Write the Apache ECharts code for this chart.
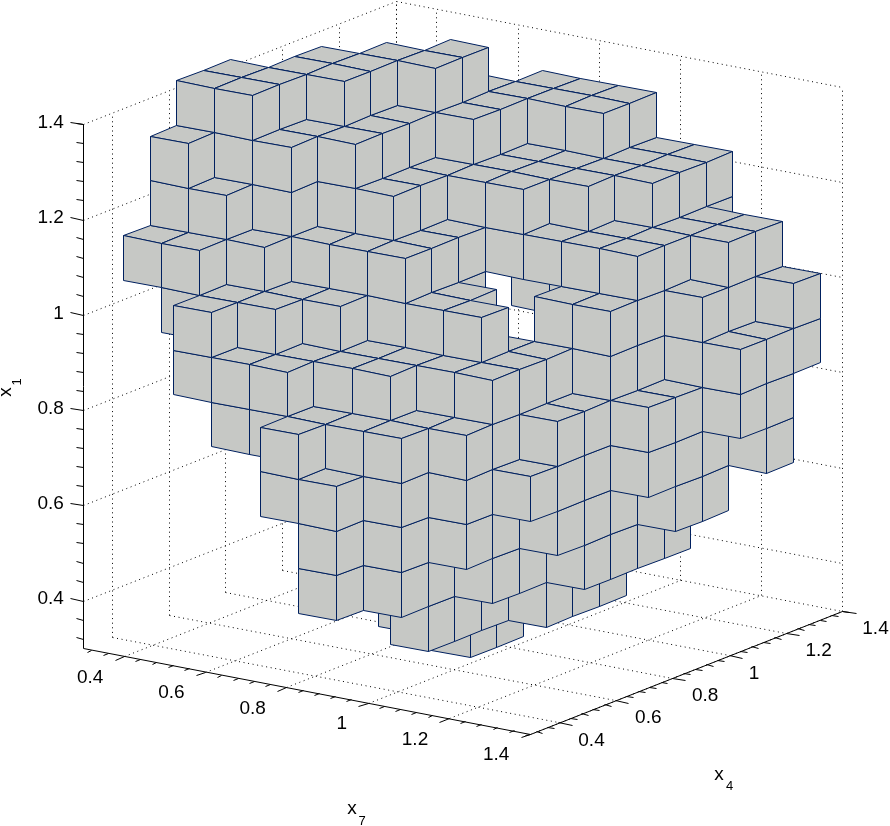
<!DOCTYPE html>
<html>
<head>
<meta charset="utf-8">
<style>html,body{margin:0;padding:0;background:#fff}#c{width:890px;height:826px}</style>
<script src="https://cdn.jsdelivr.net/npm/echarts@6/dist/echarts.min.js"></script>
</head>
<body>
<div id="c"></div>
<script>
// Occupied voxels, one list per x1 layer (bottom to top); each pair is [x7 index, x4 index]
const layer0  = [[6,5],[6,6]];
const layer1  = [[6,3],[7,2],[7,3],[7,4],[8,5],[8,6],[8,7]];
const layer2  = [[6,0],[7,1],[7,2],[8,3],[8,4],[9,5],[9,6],[9,7],[9,8]];
const layer3  = [[6,0],[7,1],[8,2],[8,3],[9,4],[9,5],[9,6],[10,7],[10,8]];
const layer4  = [[5,0],[6,0],[7,1],[8,2],[8,3],[9,3],[9,4],[9,5],[9,6],[10,6],[10,7],[10,8],[11,9]];
const layer5  = [[3,1],[4,1],[5,0],[5,1],[6,1],[6,2],[7,1],[7,2],[8,2],[8,3],[9,4],[9,5],[9,6],[10,6],[10,7],[10,8],[11,8],[11,9]];
const layer6  = [[2,1],[3,1],[4,1],[4,2],[5,2],[5,3],[6,2],[6,3],[7,3],[7,5],[8,3],[8,4],[8,5],[9,6],[9,7],[10,8],[11,8],[11,9],[11,10]];
const layer7  = [[1,2],[2,1],[2,2],[3,2],[3,3],[4,3],[5,4],[5,5],[5,6],[6,4],[6,5],[7,4],[6,8],[8,6],[9,6],[9,7],[10,8],[10,9],[11,10]];
const layer8  = [[0,2],[1,2],[2,3],[3,4],[4,4],[5,4],[5,5],[5,6],[6,7],[6,8],[7,7],[8,7],[8,8],[8,11],[9,7],[9,8],[9,9],[9,10],[10,9],[10,10]];
const layer9  = [[0,3],[1,3],[2,4],[3,5],[4,5],[4,6],[4,7],[5,7],[5,8],[5,9],[6,7],[6,8],[6,9],[7,8],[7,9],[7,10],[7,11],[8,9],[8,10],[8,11]];
const layer10 = [[0,3],[1,4],[2,4],[2,5],[3,5],[3,6],[3,7],[3,10],[4,8],[4,9],[4,10],[4,11],[5,10],[5,11],[6,10],[6,11]];
const layer11 = [[0,4],[1,4],[0,5],[1,5],[1,6],[1,7],[2,6],[2,7],[2,8],[3,8],[3,9]];
const layers = [layer0,layer1,layer2,layer3,layer4,layer5,layer6,layer7,layer8,layer9,layer10,layer11];

const majorTicks = [0.4,0.6,0.8,1,1.2,1.4];
const minorTicks = [0.32,0.36,0.44,0.48,0.52,0.56,0.64,0.68,0.72,0.76,0.84,0.88,0.92,0.96,1.04,1.08,1.12,1.16,1.24,1.28,1.32,1.36,1.4];
const axisMin = 0.3, axisMax = 1.4;
const voxelOriginX = 0.2806, voxelOriginY = 0.28, voxelOriginZ = 0.28, voxelStep = 0.0938;

// Orthographic view of the MATLAB-style 3-D axes, projecting (x7, x4, x1) to the page plane
const origin = [83.3, 648.3];
const ex7 = [406, 77.5], ex4 = [284, -111.8], ez = [0, -476.4];
function project(x7, x4, z) {
  const a = x7 - axisMin, b = x4 - axisMin, c = z - axisMin;
  return [origin[0] + a*ex7[0] + b*ex4[0] + c*ez[0],
          origin[1] + a*ex7[1] + b*ex4[1] + c*ez[1]];
}
const snap = p => [Math.round(p[0]) + 0.5, Math.round(p[1]) + 0.5];

const voxels = [];
layers.forEach((layer, k) => layer.forEach(([i, j]) => voxels.push([i, j, k])));
voxels.sort((p, q) => (p[0] - p[1] + p[2]) - (q[0] - q[1] + q[2]));

const FILL = '#c6c8c5', EDGE = '#00205f';

function voxelItem(params, api) {
  const i = api.value(0), j = api.value(1), k = api.value(2);
  const x0 = voxelOriginX + i*voxelStep, x1 = x0 + voxelStep;
  const y0 = voxelOriginY + j*voxelStep, y1 = y0 + voxelStep;
  const z0 = voxelOriginZ + k*voxelStep, z1 = z0 + voxelStep;
  const P = (a, b, c) => snap(api.coord(project(a, b, c)));
  const faces = [
    [P(x0,y0,z1), P(x1,y0,z1), P(x1,y1,z1), P(x0,y1,z1)],   // top
    [P(x0,y0,z1), P(x1,y0,z1), P(x1,y0,z0), P(x0,y0,z0)],   // facing -x4
    [P(x1,y0,z1), P(x1,y1,z1), P(x1,y1,z0), P(x1,y0,z0)]    // facing +x7
  ];
  return {
    type: 'group',
    children: faces.map(pts => ({
      type: 'polygon',
      shape: { points: pts },
      style: { fill: FILL, stroke: EDGE, lineWidth: 1, lineJoin: 'miter' }
    }))
  };
}

// Dotted grid lines on the two back walls and the floor
const gridLines = [];
majorTicks.forEach(t => {
  gridLines.push([t,axisMin,axisMin, t,axisMax,axisMin]);   // floor, along x4
  gridLines.push([axisMin,t,axisMin, axisMax,t,axisMin]);   // floor, along x7
  gridLines.push([axisMin,t,axisMin, axisMin,t,axisMax]);   // left wall vertical
  gridLines.push([t,axisMax,axisMin, t,axisMax,axisMax]);   // back wall vertical
  gridLines.push([axisMin,axisMin,t, axisMin,axisMax,t]);   // left wall horizontal
  gridLines.push([axisMin,axisMax,t, axisMax,axisMax,t]);   // back wall horizontal
});
gridLines.push([axisMin,axisMax,axisMin, axisMin,axisMax,axisMax]);

function lineItem(dash) {
  return function (params, api) {
    const a = snap(api.coord(project(api.value(0), api.value(1), api.value(2))));
    const b = snap(api.coord(project(api.value(3), api.value(4), api.value(5))));
    return {
      type: 'line',
      shape: { x1: a[0], y1: a[1], x2: b[0], y2: b[1] },
      style: { stroke: '#000', lineWidth: 1, lineDash: dash, fill: null }
    };
  };
}

// Solid axes and their tick marks
const axisLines = [
  [axisMin,axisMin,axisMin, axisMin,axisMin,axisMax],
  [axisMin,axisMin,axisMin, axisMax,axisMin,axisMin],
  [axisMax,axisMin,axisMin, axisMax,axisMax,axisMin]
];
const MAJOR = 0.033, MINOR = 0.017;
function addTicks(list, len) {
  list.forEach(t => {
    axisLines.push([t,axisMin,axisMin, t,axisMin-len,axisMin]);        // x7 axis, ticks along -x4
    axisLines.push([axisMax,t,axisMin, axisMax+len,t,axisMin]);        // x4 axis, ticks along +x7
    axisLines.push([axisMin,axisMin,t, axisMin-len,axisMin,t]);        // x1 axis, ticks along -x7
  });
}
addTicks(majorTicks, MAJOR);
addTicks(minorTicks, MINOR);

// Tick labels: [x7, x4, x1, dx, dy, align, text]
const tickLabels = [];
const fmt = t => String(t);
majorTicks.forEach(t => {
  tickLabels.push([t,axisMin,axisMin, -20.5, 21.5, 'right', fmt(t)]);
  tickLabels.push([axisMax,t,axisMin, 20, 18, 'left', fmt(t)]);
  tickLabels.push([axisMin,axisMin,t, -19.5, -1.5, 'right', fmt(t)]);
});

// Axis titles: [page x, page y, text, size, rotation]
const titleParts = [
  [352, 809, 'x', 19, 0],
  [362, 821, '7', 13, 0],
  [719, 775, 'x', 19, 0],
  [729.5, 786, '4', 13, 0],
  [6, 392, 'x', 19, Math.PI/2],
  [17, 382, '1', 13, Math.PI/2]
];

const chart = echarts.init(document.getElementById('c'), null, { renderer: 'canvas' });
chart.setOption({
  animation: false,
  backgroundColor: '#fff',
  grid: { left: 0, right: 0, top: 0, bottom: 0 },
  xAxis: { type: 'value', min: 0, max: 890, show: false },
  yAxis: { type: 'value', min: 0, max: 826, inverse: true, show: false },
  series: [
    { type: 'custom', coordinateSystem: 'cartesian2d', silent: true, clip: false, z: 1,
      data: gridLines, renderItem: lineItem([1, 3.6]) },
    { type: 'custom', coordinateSystem: 'cartesian2d', silent: true, clip: false, z: 2,
      data: voxels, renderItem: voxelItem },
    { type: 'custom', coordinateSystem: 'cartesian2d', silent: true, clip: false, z: 3,
      data: axisLines, renderItem: lineItem(null) },
    { type: 'custom', coordinateSystem: 'cartesian2d', silent: true, clip: false, z: 4,
      data: tickLabels.map(d => d.slice()),
      dimensions: ['a','b','c','dx','dy',{name:'align',type:'ordinal'},{name:'text',type:'ordinal'}],
      renderItem: function (params, api) {
        const d = tickLabels[params.dataIndex];
        const p = api.coord(project(d[0], d[1], d[2]));
        return { type: 'text', x: p[0] + d[3], y: p[1] + d[4],
          style: { text: d[6], fill: '#000', font: '19px "Liberation Sans", Arial, sans-serif',
                   align: d[5], verticalAlign: 'middle' } };
      } },
    { type: 'custom', coordinateSystem: 'cartesian2d', silent: true, clip: false, z: 4,
      data: titleParts.map(d => [d[0], d[1]]),
      renderItem: function (params, api) {
        const d = titleParts[params.dataIndex];
        const p = api.coord([d[0], d[1]]);
        return { type: 'text', x: p[0], y: p[1], rotation: d[4],
          style: { text: d[2], fill: '#000', font: d[3] + 'px "Liberation Sans", Arial, sans-serif',
                   align: 'center', verticalAlign: 'middle' } };
      } }
  ]
});
</script>
</body>
</html>
